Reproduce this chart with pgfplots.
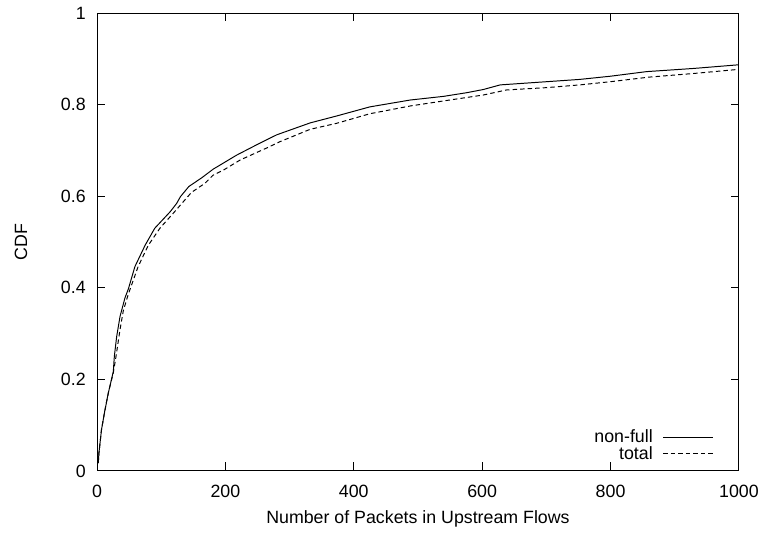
\documentclass[border=0pt]{standalone}
\usepackage{fontspec}
\setmainfont{Liberation Sans}
\usepackage{pgfplots}
\pgfplotsset{compat=1.18}
\begin{document}
\begin{tikzpicture}
\begin{axis}[
  scale only axis,
  width=458.6pt, height=327.1pt,
  xmin=0, xmax=1000, ymin=0, ymax=1,
  xtick={0,200,400,600,800,1000},
  ytick={0,0.2,0.4,0.6,0.8,1},
  yticklabels={0,0.2,0.4,0.6,0.8,1},
  tick align=inside,
  major tick length=6pt,
  axis line style={line width=0.7pt},
  tick style={line width=0.7pt, black},
  /pgf/number format/assume math mode=true,
  /pgf/number format/set thousands separator={},
  font=\fontsize{12.7}{15.2}\selectfont,
  tick label style={font=\fontsize{12.7}{15.2}\selectfont},
  label style={font=\fontsize{12.7}{15.2}\selectfont},
  xticklabel style={anchor=center, inner sep=0pt, yshift=-14.3pt},
  yticklabel style={anchor=east, inner sep=0pt, xshift=-7.9pt},
  xlabel={Number of Packets in Upstream Flows},
  ylabel={CDF},
  xlabel style={at={(rel axis cs:0.5,0)}, anchor=center, inner sep=0pt, yshift=-34.3pt},
  ylabel style={at={(rel axis cs:0,0.5)}, anchor=center, inner sep=0pt, yshift=54.3pt},
  legend style={draw=none, fill=none, at={(0.968,0.008)}, anchor=south east, row sep=-3pt,
    font=\fontsize{12.7}{15.2}\selectfont},
  legend cell align=right,
  legend plot pos=right,
  legend image code/.code={\path (0pt,0pt); \draw[#1] (5pt,0pt) -- (41pt,0pt);},
]
\addplot[black, line width=0.7pt] coordinates {
(2,0.017)(3,0.039)(7,0.09)(12,0.13)(17.6,0.17)(25.4,0.217)(27,0.25)(30.6,0.293)(35.8,0.337)(43.6,0.378)(49,0.398)(59,0.446)(75,0.493)(90,0.53)(114,0.566)(124,0.584)(130,0.599)(143,0.621)(163,0.64)(181,0.659)(218,0.69)(254,0.716)(280,0.734)(332,0.76)(373,0.775)(425,0.795)(488,0.81)(540,0.818)(576,0.826)(602,0.833)(628,0.843)(690,0.849)(752,0.855)(800,0.862)(856,0.872)(930,0.879)(1000,0.887)
};
\addlegendentry{non-full}
\addplot[black, line width=0.7pt, dash pattern=on 3.2pt off 2.2pt] coordinates {
(2,0.017)(3,0.039)(7,0.09)(12,0.13)(17.6,0.17)(25.4,0.214)(29.6,0.25)(35.8,0.308)(41,0.35)(48.8,0.386)(64,0.446)(80,0.493)(98,0.53)(119,0.563)(147,0.608)(168,0.628)(181,0.646)(197,0.657)(223,0.679)(264,0.705)(285,0.719)(332,0.746)(373,0.759)(425,0.78)(488,0.797)(540,0.808)(602,0.821)(638,0.832)(700,0.837)(752,0.843)(800,0.85)(860,0.86)(930,0.868)(1000,0.877)
};
\addlegendentry{total}
\end{axis}
\pgfresetboundingbox
\path (current axis.south west) ++(-69.3pt,-44.3pt) coordinate (bl);
\path (current axis.north east) ++(17.9pt,9.3pt) coordinate (tr);
\useasboundingbox (bl) rectangle (tr);
\end{tikzpicture}
\end{document}
